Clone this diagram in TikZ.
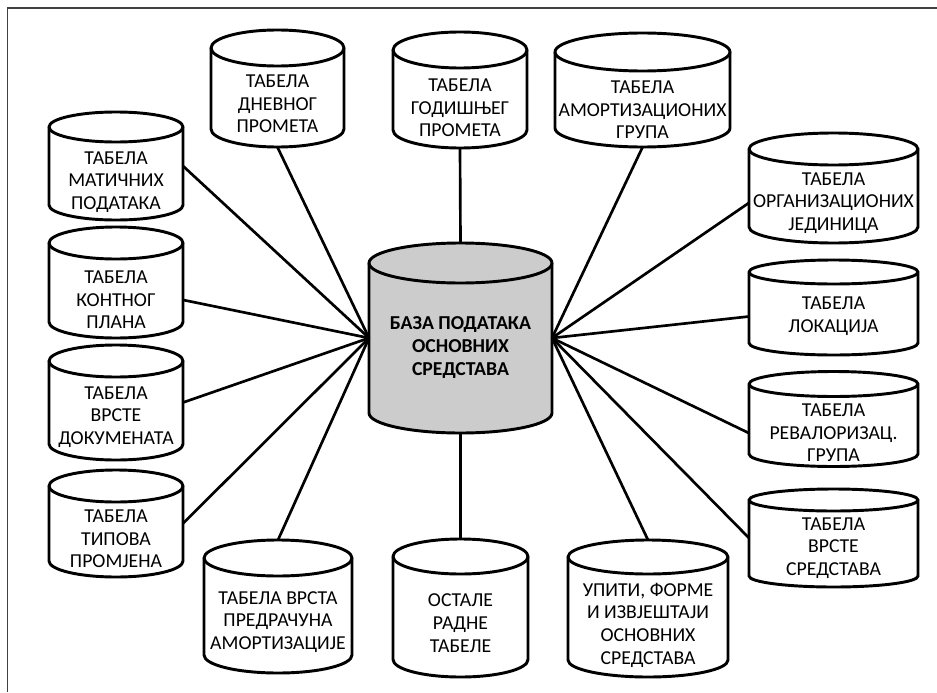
\documentclass[tikz,border=0pt]{standalone}
\usepackage{fontspec}
\setmainfont{Carlito}

\tikzset{
  obrub/.style={draw, line width=2.2pt},
  ispuna/.style={fill=white},
  tekst/.style={align=center, inner sep=0pt, font=\fontsize{14.8}{17}\selectfont},
  veza/.style={line width=2pt},
  % width, height, cap radius, text offset (px), text
  pics/tabela/.style n args={5}{code={
    \path[obrub, ispuna] (-#1/2,#2/2-#3) -- (-#1/2,-#2/2+#3)
      arc[start angle=180, end angle=360, x radius=#1/2, y radius=#3]
      -- (#1/2,#2/2-#3)
      arc[start angle=0, end angle=180, x radius=#1/2, y radius=#3] -- cycle;
    \draw[obrub] (-#1/2,#2/2-#3)
      arc[start angle=180, end angle=360, x radius=#1/2, y radius=#3];
    \coordinate (-top) at (0,#2/2);
    \coordinate (-l) at (-#1/2,0);
    \coordinate (-r) at (#1/2,0);
    \node[tekst, minimum width=#1*0.75pt, minimum height=(#2-2*#4)*0.75pt]
      (-t) at (0,-#4) {#5};
  }},
}

\begin{document}
\begin{tikzpicture}[x=0.75pt, y=0.75pt]
  \useasboundingbox (0,0) rectangle (937,-692);
  \draw[black!75, line width=1.2pt] (7.5,-692) |- (937,-8);

  % central database
  \pic[ispuna/.style={fill=gray!40}, tekst/.append style={font=\fontsize{14.8}{17.25}\selectfont\bfseries}]
    (baza) at (460.5,-338) {tabela={183}{190}{20}{10}{БАЗА ПОДАТАКА\\ОСНОВНИХ\\СРЕДСТАВА}};

  % top row
  \pic (dnevni) at (277.5,-88.5) {tabela={133}{117}{18}{15.5}{ТАБЕЛА\\ДНЕВНОГ\\ПРОМЕТА}};
  \pic (godisnji) at (460,-90) {tabela={134}{116}{18}{18}{ТАБЕЛА\\ГОДИШЊЕГ\\ПРОМЕТА}};
  \pic (amort) at (642.5,-90) {tabela={175}{114}{19}{20}{ТАБЕЛА\\АМОРТИЗАЦИОНИХ\\ГРУПА}};

  % left column
  \pic (maticni) at (116,-166) {tabela={134}{108}{15}{16}{ТАБЕЛА\\МАТИЧНИХ\\ПОДАТАКА}};
  \pic (kontni) at (116,-282.5) {tabela={134}{111}{16}{17.5}{ТАБЕЛА\\КОНТНОГ\\ПЛАНА}};
  \pic (dokumenti) at (116,-402.5) {tabela={134}{115}{16}{14.5}{ТАБЕЛА\\ВРСТЕ\\ДОКУМЕНАТА}};
  \pic (tipovi) at (116,-523.5) {tabela={134}{107}{16}{15.5}{ТАБЕЛА\\ТИПОВА\\ПРОМЈЕНА}};

  % right column
  \pic (orgjed) at (833.5,-188) {tabela={169}{110}{16}{15}{ТАБЕЛА\\ОРГАНИЗАЦИОНИХ\\ЈЕДИНИЦА}};
  \pic (lokacija) at (833.5,-307.5) {tabela={169}{95}{12}{9}{ТАБЕЛА\\ЛОКАЦИЈА}};
  \pic (reval) at (833.5,-419) {tabela={169}{95}{12.5}{14}{ТАБЕЛА\\РЕВАЛОРИЗАЦ.\\ГРУПА}};
  \pic (vrstesr) at (833.5,-538) {tabela={169}{98}{11}{10}{ТАБЕЛА\\ВРСТЕ\\СРЕДСТАВА}};

  % bottom row
  \pic (predracun) at (278,-606.5) {tabela={148}{133}{18}{15.5}{ТАБЕЛА ВРСТА\\ПРЕДРАЧУНА\\АМОРТИЗАЦИЈЕ}};
  \pic (ostale) at (460.5,-608) {tabela={135}{138}{17.5}{15}{ОСТАЛЕ\\РАДНЕ\\ТАБЕЛЕ}};
  \pic (upiti) at (648,-608.5) {tabela={160}{137}{17}{16.5}{УПИТИ, ФОРМЕ\\И ИЗВЈЕШТАЈИ\\ОСНОВНИХ\\СРЕДСТАВА}};

  % connections
  \foreach \t in {dnevni-t.south, maticni-r, kontni-t.east, dokumenti-r,
      tipovi-r, predracun-top}
    \draw[veza] (\t) -- (baza-l);
  \foreach \t in {amort-t.south, orgjed-t.west, lokacija-t.west, reval-t.west,
      vrstesr-l, upiti-top}
    \draw[veza] (\t) -- (baza-r);
  \draw[veza] (godisnji-t.south) -- (baza-top);
  \draw[veza] (baza-t.south) -- (ostale-top);
\end{tikzpicture}
\end{document}
